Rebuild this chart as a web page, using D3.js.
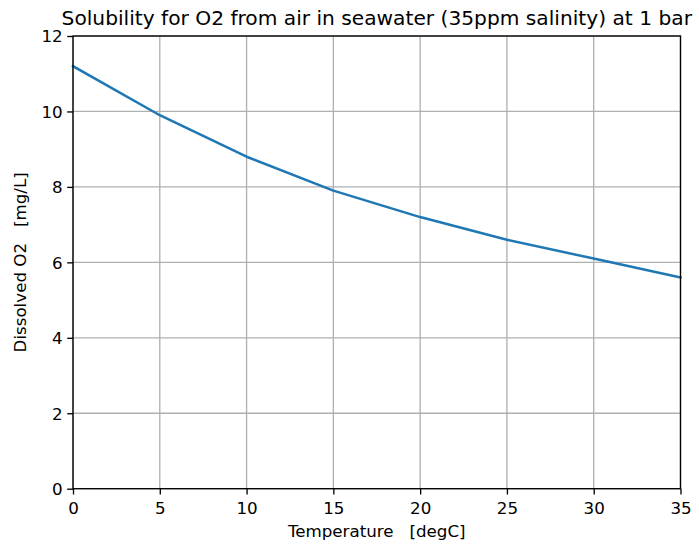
<!DOCTYPE html>
<html>
<head>
<meta charset="utf-8">
<script src="https://cdn.jsdelivr.net/npm/d3@7"></script>
<style>
    body { margin: 0; background: #fff; }
    text { font-family: "DejaVu Sans", sans-serif; fill: #000; }
    .axis text { font-size: 16.7px; }
    .axis path, .axis line { stroke: #000; stroke-width: 1.33px; }
    .grid line { stroke: #b0b0b0; stroke-width: 1.33px; }
</style>
</head>
<body>
<svg id="chart"></svg>
<script>
// Temperature [degC] vs dissolved O2 [mg/L]
const temperatures = [0, 5, 10, 15, 20, 25, 30, 35];
const dissolvedO2 = [11.2, 9.9, 8.8, 7.9, 7.2, 6.6, 6.1, 5.6];
const xTicks = [0, 5, 10, 15, 20, 25, 30, 35];
const yTicks = [0, 2, 4, 6, 8, 10, 12];

const config = {
    width: 699,
    height: 544,
    margin: {top: 36, right: 18.5, bottom: 55.3, left: 73}
};

const svg = d3.select('#chart')
    .attr('width', config.width)
    .attr('height', config.height);

const width = config.width - config.margin.left - config.margin.right;
const height = config.height - config.margin.top - config.margin.bottom;

const g = svg.append('g')
    .attr('transform', `translate(${config.margin.left},${config.margin.top})`);

const xScale = d3.scaleLinear().domain([0, 35]).range([0, width]);
const yScale = d3.scaleLinear().domain([0, 12]).range([height, 0]);

// Grid lines
g.append('g').attr('class', 'grid')
    .selectAll('line')
    .data(xTicks)
    .join('line')
        .attr('x1', d => xScale(d)).attr('x2', d => xScale(d))
        .attr('y1', 0).attr('y2', height);
g.append('g').attr('class', 'grid')
    .selectAll('line')
    .data(yTicks)
    .join('line')
        .attr('x1', 0).attr('x2', width)
        .attr('y1', d => yScale(d)).attr('y2', d => yScale(d));

// Data line
const line = d3.line()
    .x((d, i) => xScale(temperatures[i]))
    .y(d => yScale(d));

g.append('path')
    .datum(dissolvedO2)
    .attr('fill', 'none')
    .attr('stroke', '#1f77b4')
    .attr('stroke-width', 2.5)
    .attr('stroke-linejoin', 'round')
    .attr('stroke-linecap', 'square')
    .attr('d', line);

// Axes
const xAxis = d3.axisBottom(xScale).tickValues(xTicks).tickSize(5.8).tickPadding(5).tickSizeOuter(0);
const yAxis = d3.axisLeft(yScale).tickValues(yTicks).tickSize(5.8).tickPadding(4.5).tickSizeOuter(0);

g.append('g').attr('class', 'axis x-axis')
    .attr('transform', `translate(0,${height})`)
    .call(xAxis)
    .call(s => s.select('.domain').remove())
    .selectAll('text').attr('dy', '0.71em').attr('y', 13.5);

g.append('g').attr('class', 'axis y-axis')
    .call(yAxis)
    .call(s => s.select('.domain').remove())
    .selectAll('text').attr('dy', '0.35em');

// Spines
g.append('rect')
    .attr('width', width)
    .attr('height', height)
    .attr('fill', 'none')
    .attr('stroke', '#000')
    .attr('stroke-width', 1.33);

// Titles
g.append('text')
    .attr('x', width / 2)
    .attr('y', -11)
    .attr('text-anchor', 'middle')
    .style('font-size', '20.2px')
    .text('Solubility for O2 from air in seawater (35ppm salinity) at 1 bar');

g.append('text')
    .attr('x', width / 2)
    .attr('y', height + 48)
    .attr('text-anchor', 'middle')
    .style('font-size', '16.7px')
    .style('white-space', 'pre')
    .text('Temperature   [degC]');

g.append('text')
    .attr('transform', `translate(${-47},${height / 2}) rotate(-90)`)
    .attr('text-anchor', 'middle')
    .style('font-size', '16.7px')
    .style('white-space', 'pre')
    .text('Dissolved O2   [mg/L]');
</script>
</body>
</html>
